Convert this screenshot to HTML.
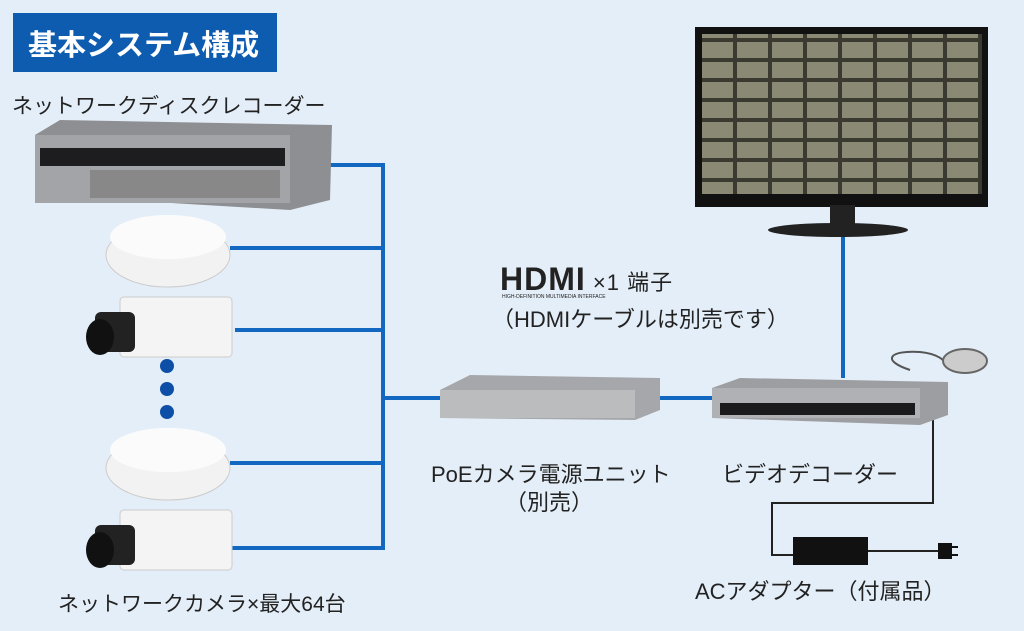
<!DOCTYPE html>
<html><head><meta charset="utf-8"><style>
body{margin:0;width:1024px;height:631px;background:#e4eef8;position:relative;overflow:hidden;font-family:"Liberation Sans","Noto Sans CJK JP",sans-serif;color:#222}
.t{position:absolute;white-space:nowrap;font-size:21px}
.a{position:absolute}
</style></head><body>
<svg class="a" style="left:0;top:0" width="1024" height="631">
<defs><pattern id="g" width="35" height="20" patternUnits="userSpaceOnUse"><rect width="35" height="20" fill="#3a3a30"/><rect x="2" y="2" width="31" height="16" fill="#8a8a74"/></pattern></defs>
<g stroke="#1268c0" stroke-width="4" fill="none">
<path d="M325 165H383V548H230M230 248H383M235 330H383M230 463H383M383 398H442M660 398H715M843 205V378"/>
</g>
<g stroke="#222" stroke-width="2" fill="none">
<path d="M933 410V503H772V555H795M866 551H942"/>
</g>
<rect x="793" y="537" width="75" height="28" fill="#111"/>
<rect x="938" y="543" width="14" height="16" fill="#111"/>
<path d="M952 547h6M952 555h6" stroke="#111" stroke-width="2"/>
<path d="M910 370 C880 360,890 350,920 352 C950 355,945 370,950 365" stroke="#555" stroke-width="2" fill="none"/>
<ellipse cx="965" cy="361" rx="22" ry="12" fill="#ccc" stroke="#666" stroke-width="2"/>
<polygon points="35,135 60,120 332,125 330,200 290,210 35,195" fill="#8e8f92"/>
<rect x="35" y="135" width="255" height="68" fill="#a3a4a7"/>
<rect x="40" y="148" width="245" height="18" fill="#1d1d1f"/>
<rect x="90" y="170" width="190" height="28" fill="#888"/>
<rect x="695" y="27" width="293" height="180" fill="#111"/>
<rect x="702" y="34" width="280" height="160" fill="url(#g)"/>
<rect x="830" y="205" width="25" height="20" fill="#222"/>
<ellipse cx="838" cy="230" rx="70" ry="7" fill="#222"/>
<circle cx="167" cy="366" r="7" fill="#0d4ea6"/><circle cx="167" cy="389" r="7" fill="#0d4ea6"/><circle cx="167" cy="412" r="7" fill="#0d4ea6"/>
<ellipse cx="168" cy="255" rx="62" ry="32" fill="#f2f2f2" stroke="#ccc"/>
<ellipse cx="168" cy="237" rx="58" ry="22" fill="#fbfbfb"/>
<ellipse cx="168" cy="468" rx="62" ry="32" fill="#f2f2f2" stroke="#ccc"/>
<ellipse cx="168" cy="450" rx="58" ry="22" fill="#fbfbfb"/>
<rect x="120" y="297" width="112" height="60" rx="4" fill="#f4f4f4" stroke="#ccc"/>
<rect x="95" y="312" width="40" height="40" rx="6" fill="#222"/>
<ellipse cx="100" cy="337" rx="14" ry="18" fill="#111"/>
<rect x="120" y="510" width="112" height="60" rx="4" fill="#f4f4f4" stroke="#ccc"/>
<rect x="95" y="525" width="40" height="40" rx="6" fill="#222"/>
<ellipse cx="100" cy="550" rx="14" ry="18" fill="#111"/>
<polygon points="440,390 470,375 660,378 660,410 635,420 440,418" fill="#a6a7aa"/>
<rect x="440" y="390" width="195" height="28" fill="#bbbcbe"/>
<polygon points="712,388 740,378 948,382 948,415 920,425 712,418" fill="#9d9ea1"/>
<rect x="712" y="388" width="208" height="30" fill="#b0b1b4"/>
<rect x="720" y="403" width="195" height="12" fill="#1b1b1d"/>
</svg>
<div class="a" style="left:13px;top:13px;width:264px;height:59px;background:#0d5cb0"></div>
<div class="t" style="left:28px;top:22px;font-size:29px;color:#fff;font-weight:bold">基本システム構成</div>
<div class="t" style="left:12px;top:90px">ネットワークディスクレコーダー</div>
<div class="t" style="left:58px;top:588px">ネットワークカメラ×最大64台</div>
<div class="t" style="left:500px;top:261px;font-size:32px;font-weight:900;letter-spacing:1px;font-family:'Liberation Sans',sans-serif">HDMI<span style="font-size:22px;font-weight:normal">&nbsp;×1 端子</span></div>
<div class="t" style="left:502px;top:294px;font-size:5px">HIGH-DEFINITION MULTIMEDIA INTERFACE</div>
<div class="t" style="left:492px;top:302px;font-size:22px">（HDMIケーブルは別売です）</div>
<div class="t" style="left:431px;top:457px;font-size:22px">PoEカメラ電源ユニット</div>
<div class="t" style="left:505px;top:485px;font-size:22px">（別売）</div>
<div class="t" style="left:722px;top:457px;font-size:22px">ビデオデコーダー</div>
<div class="t" style="left:695px;top:574px;font-size:22px">ACアダプター（付属品）</div>
</body></html>
